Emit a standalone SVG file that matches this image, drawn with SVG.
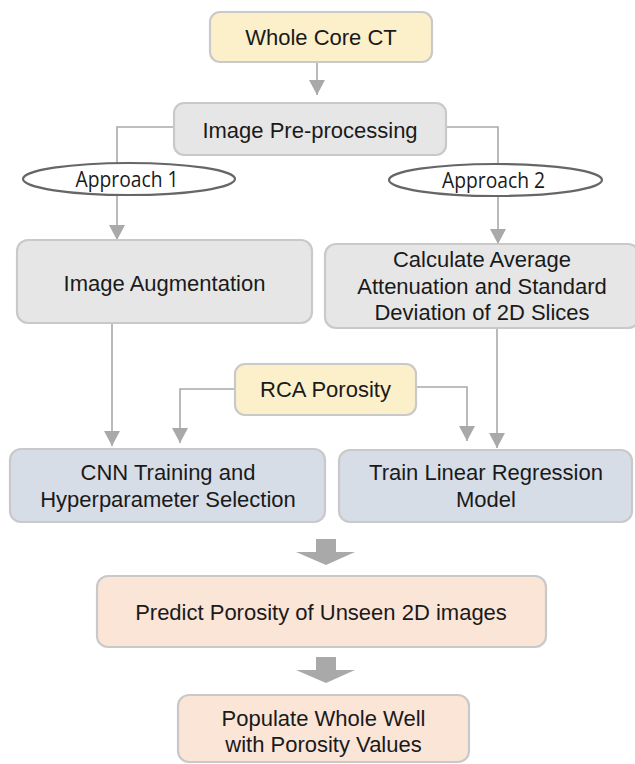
<svg xmlns="http://www.w3.org/2000/svg" width="635" height="764" viewBox="0 0 635 764">
<style>
.box{stroke:#c9c9c9;stroke-width:2.2}
.yel{fill:#fcf0cb}
.gry{fill:#e6e6e6}
.blu{fill:#d7dde6}
.pch{fill:#fae5d7}
.t{font-family:"Liberation Sans",Arial,sans-serif;font-size:22px;fill:#1a1a1a;text-anchor:middle}
.ap{font-family:"Open Sans","Noto Sans",sans-serif;font-size:21px;fill:#1a1a1a;text-anchor:middle}
.ell{fill:#ffffff;stroke:#666666;stroke-width:2.2}
.c{fill:none;stroke:#a9a9a9;stroke-width:1.6}
.big{fill:#a9a9a9}
</style>
<defs>
<marker id="ah" viewBox="0 0 15 16" refX="15" refY="8" markerWidth="15" markerHeight="16" markerUnits="userSpaceOnUse" orient="auto">
<path d="M0,0 L15,8 L0,16 z" fill="#a9a9a9"/>
</marker>
</defs>
<rect width="635" height="764" fill="#ffffff"/>
<g id="connectors">
<path class="c" d="M317,63 V95" marker-end="url(#ah)"/>
<path class="c" d="M173,127 H117 V240" marker-end="url(#ah)"/>
<path class="c" d="M446,127 H498 V244" marker-end="url(#ah)"/>
<path class="c" d="M112,324 V446" marker-end="url(#ah)"/>
<path class="c" d="M497,329 V448" marker-end="url(#ah)"/>
<path class="c" d="M235,389 H180 V443" marker-end="url(#ah)"/>
<path class="c" d="M416,387 H467 V441" marker-end="url(#ah)"/>
<polygon class="big" points="316,539 336,539 336,552 355,552 326,565 296,552 316,552"/>
<polygon class="big" points="316,657 336,657 336,670 355,670 326,683 296,670 316,670"/>
</g>
<g id="whole-core-ct">
<rect class="box yel" x="210" y="12" width="222" height="50" rx="10"/>
<text class="t" x="321" y="45">Whole Core CT</text>
</g>
<g id="image-preprocessing">
<rect class="box gry" x="174" y="103" width="272" height="52" rx="10"/>
<text class="t" x="310" y="138">Image Pre-processing</text>
</g>
<g id="approach-1">
<ellipse class="ell" cx="129" cy="179" rx="106" ry="16"/>
<text class="ap" x="127" y="187" textLength="103" lengthAdjust="spacingAndGlyphs">Approach 1</text>
</g>
<g id="approach-2">
<ellipse class="ell" cx="495.5" cy="180" rx="106.5" ry="16"/>
<text class="ap" x="493.5" y="188" textLength="103" lengthAdjust="spacingAndGlyphs">Approach 2</text>
</g>
<g id="image-augmentation">
<rect class="box gry" x="17" y="240" width="295" height="83" rx="11"/>
<text class="t" x="164.5" y="291">Image Augmentation</text>
</g>
<g id="calculate-average">
<rect class="box gry" x="325" y="244" width="314" height="84" rx="11"/>
<text class="t" x="482" y="267">Calculate Average</text>
<text class="t" x="482" y="294">Attenuation and Standard</text>
<text class="t" x="482" y="320">Deviation of 2D Slices</text>
</g>
<g id="rca-porosity">
<rect class="box yel" x="235" y="364" width="181" height="51" rx="10"/>
<text class="t" x="325.5" y="397">RCA Porosity</text>
</g>
<g id="cnn-training">
<rect class="box blu" x="10" y="449" width="315" height="73" rx="11"/>
<text class="t" x="168" y="480">CNN Training and</text>
<text class="t" x="168" y="507">Hyperparameter Selection</text>
</g>
<g id="train-linear-regression">
<rect class="box blu" x="339" y="450" width="293" height="72" rx="11"/>
<text class="t" x="486" y="480">Train Linear Regression</text>
<text class="t" x="486" y="507">Model</text>
</g>
<g id="predict-porosity">
<rect class="box pch" x="97" y="576" width="449" height="71" rx="11"/>
<text class="t" x="321" y="620">Predict Porosity of Unseen 2D images</text>
</g>
<g id="populate-whole-well">
<rect class="box pch" x="178" y="695" width="291" height="67" rx="11"/>
<text class="t" x="323.5" y="726">Populate Whole Well</text>
<text class="t" x="323.5" y="752">with Porosity Values</text>
</g>
</svg>
